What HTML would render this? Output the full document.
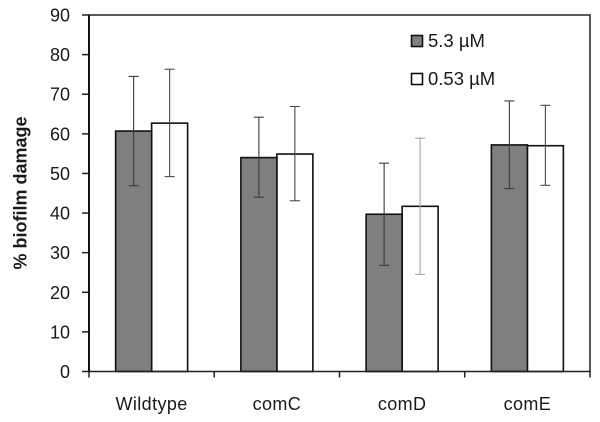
<!DOCTYPE html>
<html>
<head>
<meta charset="utf-8">
<style>
html,body{margin:0;padding:0;background:#fff;width:600px;height:422px;overflow:hidden}
svg{display:block}
text{font-family:"Liberation Sans",sans-serif;fill:#1a1a1a}
</style>
</head>
<body>
<svg id="chart" width="600" height="422" viewBox="0 0 600 422" xmlns="http://www.w3.org/2000/svg">
  <text transform="translate(26.5,193) rotate(-90)" text-anchor="middle" font-size="18" font-weight="bold">% biofilm damage</text>
  <g id="marks"></g>
  <g>
    <rect x="411.5" y="35.5" width="11" height="11" fill="#7f7f7f" stroke="#111" stroke-width="1.6"/>
    <text x="428" y="47" font-size="18.5">5.3 µM</text>
    <rect x="411.5" y="73.5" width="11" height="11" fill="#fff" stroke="#111" stroke-width="1.6"/>
    <text x="428" y="85" font-size="18.5">0.53 µM</text>
  </g>
</svg>
<script>
const categories = ['Wildtype', 'comC', 'comD', 'comE'];
const yTicks = [0, 10, 20, 30, 40, 50, 60, 70, 80, 90];
const highDose = [60.7, 54.0, 39.7, 57.2];
const lowDose = [62.7, 54.9, 41.7, 57.0];
const highDoseErrTop = [74.5, 64.2, 52.6, 68.3];
const highDoseErrBottom = [46.9, 44.0, 26.8, 46.2];
const lowDoseErrTop = [76.3, 66.9, 58.9, 67.2];
const lowDoseErrBottom = [49.2, 43.1, 24.5, 47.0];

const NS = 'http://www.w3.org/2000/svg';
const root = document.getElementById('marks');
const plotLeft = 89, plotRight = 590, plotTop = 15, plotBottom = 371.5;
const yMax = 90, barWidth = 36;

function yScale(v) {
  return plotBottom - (v / yMax) * (plotBottom - plotTop);
}
function groupEdge(i) {
  return plotLeft + i * (plotRight - plotLeft) / categories.length;
}
function groupCenter(i) {
  return groupEdge(i + 0.5);
}
function make(tag, attrs, parent) {
  const el = document.createElementNS(NS, tag);
  for (const k in attrs) el.setAttribute(k, attrs[k]);
  (parent || root).appendChild(el);
  return el;
}

function drawBar(i, value, x, fill, label) {
  const top = yScale(value);
  const el = make('rect', {x: x, y: top, width: barWidth, height: plotBottom - top, fill: fill, stroke: '#111', 'stroke-width': 1.6});
  
  
}
function drawError(i, hi, lo, x, colour, label) {
  const g = make('g', {stroke: colour, 'stroke-width': 1.1, fill: 'none'});
  
  
  make('line', {x1: x, x2: x, y1: yScale(hi), y2: yScale(lo)}, g);
  make('line', {x1: x - 5, x2: x + 5, y1: yScale(hi), y2: yScale(hi)}, g);
  make('line', {x1: x - 5, x2: x + 5, y1: yScale(lo), y2: yScale(lo)}, g);
}

categories.forEach(function (name, i) {
  const c = groupCenter(i);
  drawBar(i, lowDose[i], c, '#fff', 'low-dose');
  drawBar(i, highDose[i], c - barWidth, '#7f7f7f', 'high-dose');
  drawError(i, highDoseErrTop[i], highDoseErrBottom[i], c - barWidth / 2, '#3a3a3a', 'high-dose');
  drawError(i, lowDoseErrTop[i], lowDoseErrBottom[i], c + barWidth / 2, name === 'comD' ? '#a6a6a6' : '#4a4a4a', 'low-dose');
  const label = make('text', {x: c, y: 410, 'text-anchor': 'middle', 'font-size': 18, 'letter-spacing': 0.4});
  label.textContent = name;
  
  
});

const frame = make('rect', {x: plotLeft, y: plotTop, width: plotRight - plotLeft, height: plotBottom - plotTop, fill: 'none', stroke: '#222', 'stroke-width': 1.5});


const leftAxis = make('line', {x1: plotLeft, x2: plotLeft, y1: plotTop, y2: plotBottom, stroke: '#111', 'stroke-width': 2});



yTicks.forEach(function (t) {
  const y = yScale(t);
  const tick = make('line', {x1: plotLeft - 7, x2: plotLeft, y1: y, y2: y, stroke: '#222', 'stroke-width': 1.5});
  
  
  const label = make('text', {x: 70, y: y + 6.5, 'text-anchor': 'end', 'font-size': 18});
  label.textContent = t;
  
  
});

for (let i = 0; i <= categories.length; i++) {
  const x = groupEdge(i);
  const tick = make('line', {x1: x, x2: x, y1: plotBottom, y2: plotBottom + 6, stroke: '#222', 'stroke-width': 1.5});
  
  
}
</script>
</body>
</html>
